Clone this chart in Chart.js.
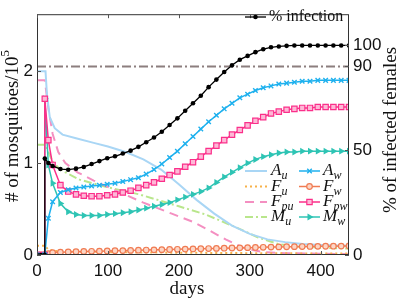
<!DOCTYPE html>
<html>
<head>
<meta charset="utf-8">
<script src="https://cdn.jsdelivr.net/npm/chart.js@4.4.1/dist/chart.umd.min.js"></script>
<style>
  html, body { margin: 0; padding: 0; background: #fff; }
</style>
</head>
<body>
<canvas id="chart" width="399" height="300"></canvas>
<script>
// ---- values ----
const xTicks = [0, 100, 200, 300, 400];
const yTicksLeft = [0, 1, 2];
const yTicksRight = [0, 50, 90, 100];

// series with markers share one day grid (release happens at day 11)
const wDays = [0, 5.5, 11, 11, 16, 22, 33, 44, 55, 66, 77, 88, 99, 110, 121, 132, 143, 154, 165, 176,
  187, 198, 209, 220, 231, 242, 253, 264, 275, 286, 297, 308, 319, 330, 341, 352, 363, 374, 385, 396,
  407, 418, 429, 440];
const infectionPct = [0, 0, 0, 46, 43.9, 42.5, 41, 40.7, 41.2, 42, 43.4, 44.8, 46.2, 47.1, 48.4, 49.8,
  51.6, 53.8, 56.1, 58.8, 62, 65.2, 68.8, 72.4, 76, 80.1, 83.7, 87.3, 90.5, 93.2, 95, 96.8, 98.2, 99.1,
  99.5, 99.8, 100, 100, 100, 100, 100, 100, 100, 100];
const Aw = [0, 0, 0, 0, 0.4, 0.58, 0.68, 0.71, 0.73, 0.74, 0.75, 0.76, 0.77, 0.78, 0.8, 0.82, 0.84, 0.88,
  0.93, 0.99, 1.06, 1.13, 1.21, 1.29, 1.37, 1.45, 1.52, 1.59, 1.65, 1.71, 1.75, 1.79, 1.82, 1.84, 1.86,
  1.87, 1.88, 1.89, 1.89, 1.9, 1.9, 1.9, 1.9, 1.9];
const Fw = [0, 0, 0, 0, 0.015, 0.025, 0.03, 0.033, 0.036, 0.038, 0.04, 0.042, 0.044, 0.046, 0.048, 0.05,
  0.052, 0.054, 0.056, 0.058, 0.06, 0.062, 0.064, 0.066, 0.068, 0.07, 0.072, 0.074, 0.076, 0.078, 0.08,
  0.082, 0.084, 0.086, 0.088, 0.09, 0.091, 0.092, 0.093, 0.094, 0.095, 0.096, 0.097, 0.098];
const Fpw = [0, 0, 0, 1.7, 1.25, 0.98, 0.76, 0.69, 0.66, 0.645, 0.64, 0.64, 0.65, 0.66, 0.68, 0.7, 0.73,
  0.76, 0.79, 0.83, 0.87, 0.91, 0.96, 1.01, 1.07, 1.13, 1.19, 1.25, 1.31, 1.36, 1.41, 1.46, 1.5, 1.54,
  1.56, 1.58, 1.59, 1.6, 1.6, 1.61, 1.61, 1.61, 1.61, 1.61];
const Mw = [0, 0, 0, 1.7, 0.98, 0.78, 0.56, 0.47, 0.44, 0.43, 0.43, 0.43, 0.44, 0.45, 0.46, 0.47, 0.49,
  0.51, 0.53, 0.55, 0.57, 0.6, 0.63, 0.66, 0.69, 0.73, 0.79, 0.85, 0.9, 0.95, 1.0, 1.04, 1.07, 1.09,
  1.11, 1.12, 1.12, 1.13, 1.13, 1.13, 1.13, 1.13, 1.13, 1.13];

// plain lines (no markers), each with its own days
const auDays = [0, 12, 14, 18, 25, 36, 55, 80, 100, 125, 150, 175, 200, 225, 250, 275, 300, 325, 350, 375, 400, 440];
const Au = [2.0, 2.0, 1.75, 1.5, 1.38, 1.31, 1.27, 1.22, 1.18, 1.12, 1.04, 0.93, 0.77, 0.6, 0.45, 0.32,
  0.23, 0.17, 0.14, 0.12, 0.11, 0.1];
const fuDays = [0, 11, 16, 25, 50, 100, 200, 300, 440];
const Fu = [0.1, 0.1, 0.06, 0.045, 0.035, 0.03, 0.025, 0.02, 0.015];
const fpuDays = [0, 11, 16, 22, 30, 40, 57, 80, 120, 150, 190, 220, 240, 266, 294, 320, 350, 440];
const Fpu = [1.9, 1.9, 1.6, 1.32, 1.12, 1.0, 0.9, 0.81, 0.67, 0.57, 0.45, 0.36, 0.28, 0.17, 0.07, 0.03, 0.02, 0.01];
const muDays = [0, 12, 16, 22, 30, 40, 60, 98, 144, 200, 238, 284, 312, 340, 370, 400, 440];
const Mu = [1.2, 1.2, 1.12, 1.02, 0.95, 0.9, 0.82, 0.74, 0.66, 0.53, 0.44, 0.29, 0.19, 0.12, 0.09, 0.08, 0.07];

// 90 % target line
const thresholdDays = [0, 440];
const thresholdPct = [90, 90];

const pts = (days, vals) => days.map((d, i) => ({ x: d, y: vals[i] }));

const SERIF = '"Liberation Serif", "DejaVu Serif", serif';
const SANS = '"Liberation Sans", Arial, sans-serif';

// ---- styles (shared by datasets and the hand-drawn legend) ----
const st = {
  inf:  { borderColor: "#000", backgroundColor: "#000", borderWidth: 1.3, pointStyle: "circle", pointRadius: 2.3, pointBorderWidth: 0 },
  Au:   { borderColor: "#a9d6f5", borderWidth: 2, pointRadius: 0 },
  Fu:   { borderColor: "#f7b24a", borderWidth: 2, borderDash: [2, 3], pointRadius: 0 },
  Fpu:  { borderColor: "#f48fc1", borderWidth: 2, borderDash: [9, 6], pointRadius: 0 },
  Mu:   { borderColor: "#b9e68c", borderWidth: 2, borderDash: [8, 3, 2, 3], pointRadius: 0 },
  Aw:   { borderColor: "#1fb1ee", backgroundColor: "#1fb1ee", borderWidth: 1.5, pointStyle: "crossRot", pointRadius: 3.2, pointBorderWidth: 1.4 },
  Fw:   { borderColor: "#f07b52", backgroundColor: "#fcd6c6", borderWidth: 1.5, pointStyle: "circle", pointRadius: 2.8, pointBorderWidth: 1.2 },
  Fpw:  { borderColor: "#fb2f8a", backgroundColor: "#fdb8d6", borderWidth: 1.5, pointStyle: "rect", pointRadius: 3.8, pointBorderWidth: 1.2 },
  Mw:   { borderColor: "#2ec4b4", backgroundColor: "#2ec4b4", borderWidth: 1.5, pointStyle: "triangle", pointRotation: 90, pointRadius: 4, pointBorderWidth: 0 },
  thr:  { borderColor: "#8c7e7e", borderWidth: 2, borderDash: [9, 3, 2, 3], pointRadius: 0 },
};

function ds(data, s, axis) {
  return Object.assign({ data, yAxisID: axis, tension: 0, fill: false, pointBackgroundColor: s.backgroundColor,
    pointBorderColor: s.borderColor }, s);
}

// Draws "A" + subscript "u" in math italics
function symbol(ctx, x, y, base, sub) {
  ctx.font = "italic 17px " + SERIF;
  ctx.textBaseline = "middle";
  ctx.textAlign = "left";
  ctx.fillText(base, x, y);
  const w = ctx.measureText(base).width;
  ctx.font = "italic 12px " + SERIF;
  ctx.fillText(sub, x + w, y + 5);
}

function sample(ctx, s, x0, x1, y) {
  ctx.save();
  ctx.strokeStyle = s.borderColor;
  ctx.lineWidth = s.borderWidth;
  ctx.setLineDash(s.borderDash || []);
  ctx.beginPath(); ctx.moveTo(x0, y); ctx.lineTo(x1, y); ctx.stroke();
  ctx.setLineDash([]);
  if (s.pointRadius > 0) {
    ctx.fillStyle = s.backgroundColor;
    ctx.strokeStyle = s.borderColor;
    ctx.lineWidth = s.pointBorderWidth;
    Chart.helpers.drawPoint(ctx, { pointStyle: s.pointStyle, radius: s.pointRadius,
      rotation: s.pointRotation || 0, borderWidth: s.pointBorderWidth }, (x0 + x1) / 2, y);
  }
  ctx.restore();
}

// Box, inward ticks, axis titles and both legends
const decor = {
  id: "decor",
  afterDatasetsDraw(chart) {
    const { ctx, chartArea: a, scales } = chart;
    ctx.save();
    ctx.strokeStyle = "#333";
    ctx.lineWidth = 1;
    ctx.strokeRect(a.left + 0.5, a.top + 0.5, a.right - a.left - 1, a.bottom - a.top - 1);
    ctx.strokeStyle = "#555";
    ctx.beginPath();
    for (const v of xTicks) {
      const px = Math.round(scales.x.getPixelForValue(v)) + 0.5;
      ctx.moveTo(px, a.bottom); ctx.lineTo(px, a.bottom - 4);
      ctx.moveTo(px, a.top); ctx.lineTo(px, a.top + 4);
    }
    for (const v of yTicksLeft) {
      const py = Math.round(scales.y.getPixelForValue(v)) + 0.5;
      ctx.moveTo(a.left, py); ctx.lineTo(a.left + 4, py);
    }
    for (const v of yTicksRight) {
      const py = Math.round(scales.y2.getPixelForValue(v)) + 0.5;
      ctx.moveTo(a.right, py); ctx.lineTo(a.right - 4, py);
    }
    ctx.stroke();
    ctx.restore();
  },
  afterDraw(chart) {
    const { ctx } = chart;
    ctx.save();
    ctx.fillStyle = "#111";

    // x title
    ctx.font = "19px " + SERIF;
    ctx.textAlign = "center";
    ctx.textBaseline = "middle";
    ctx.fillText("days", 187, 289);

    // left title with 10^5
    ctx.save();
    ctx.translate(13, 126);
    ctx.rotate(-Math.PI / 2);
    ctx.font = "19px " + SERIF;
    const main = "# of mosquitoes/10";
    const mw = ctx.measureText(main).width;
    ctx.font = "13px " + SERIF;
    const sw = ctx.measureText("5").width;
    const start = -(mw + sw) / 2;
    ctx.textAlign = "left";
    ctx.font = "19px " + SERIF;
    ctx.fillText(main, start, 0);
    ctx.font = "13px " + SERIF;
    ctx.fillText("5", start + mw, -7);
    ctx.restore();

    // right title
    ctx.save();
    ctx.translate(391, 130);
    ctx.rotate(-Math.PI / 2);
    ctx.font = "19px " + SERIF;
    ctx.textAlign = "center";
    ctx.fillText("% of infected females", 0, 0);
    ctx.restore();

    // top legend
    sample(ctx, st.inf, 245, 266, 17);
    ctx.fillStyle = "#111";
    ctx.font = "16px " + SERIF;
    ctx.textAlign = "left";
    ctx.textBaseline = "middle";
    ctx.fillText("% infection", 269, 17);

    // bottom legend, two columns
    const rows = [171, 186.5, 202, 217];
    const left = [[st.Au, "A", "u"], [st.Fu, "F", "u"], [st.Fpu, "F", "pu"], [st.Mu, "M", "u"]];
    const right = [[st.Aw, "A", "w"], [st.Fw, "F", "w"], [st.Fpw, "F", "pw"], [st.Mw, "M", "w"]];
    rows.forEach((y, i) => {
      sample(ctx, left[i][0], 245, 267, y);
      ctx.fillStyle = "#111";
      symbol(ctx, 271, y, left[i][1], left[i][2]);
      sample(ctx, right[i][0], 299, 320, y);
      ctx.fillStyle = "#111";
      symbol(ctx, 323, y, right[i][1], right[i][2]);
    });
    ctx.restore();
  },
};

const tickFont = { family: SANS, size: 17 };
const setTicks = list => axis => { axis.ticks = list.map(v => ({ value: v })); };

new Chart(document.getElementById("chart"), {
  type: "line",
  data: {
    datasets: [
      ds(pts(wDays, infectionPct), st.inf, "y2"),
      ds(pts(wDays, Aw), st.Aw, "y"),
      ds(pts(wDays, Fpw), st.Fpw, "y"),
      ds(pts(wDays, Mw), st.Mw, "y"),
      ds(pts(wDays, Fw), st.Fw, "y"),
      ds(pts(auDays, Au), st.Au, "y"),
      ds(pts(fuDays, Fu), st.Fu, "y"),
      ds(pts(fpuDays, Fpu), st.Fpu, "y"),
      ds(pts(muDays, Mu), st.Mu, "y"),
      ds(pts(thresholdDays, thresholdPct), st.thr, "y2"),
    ],
  },
  options: {
    responsive: false,
    animation: false,
    devicePixelRatio: 1,
    events: [],
    layout: { padding: { top: 1, left: 0, right: 0, bottom: 0 } },
    plugins: { legend: { display: false }, tooltip: { enabled: false } },
    scales: {
      x: {
        type: "linear", min: 0, max: 440,
        afterBuildTicks: setTicks(xTicks),
        afterFit: s => { s.height = 45; },
        grid: { display: false, drawTicks: false },
        border: { display: false },
        ticks: { font: tickFont, color: "#111", padding: 6, maxRotation: 0 },
      },
      y: {
        position: "left", min: 0, max: 2.62,
        afterBuildTicks: setTicks(yTicksLeft),
        afterFit: s => { s.width = 37; },
        grid: { display: false, drawTicks: false },
        border: { display: false },
        ticks: { font: tickFont, color: "#111", padding: 4 },
      },
      y2: {
        position: "right", min: 0, max: 114.9,
        afterBuildTicks: setTicks(yTicksRight),
        afterFit: s => { s.width = 50; },
        grid: { display: false, drawTicks: false },
        border: { display: false },
        ticks: { font: tickFont, color: "#111", padding: 4 },
      },
    },
  },
  plugins: [decor],
});
</script>
</body>
</html>
